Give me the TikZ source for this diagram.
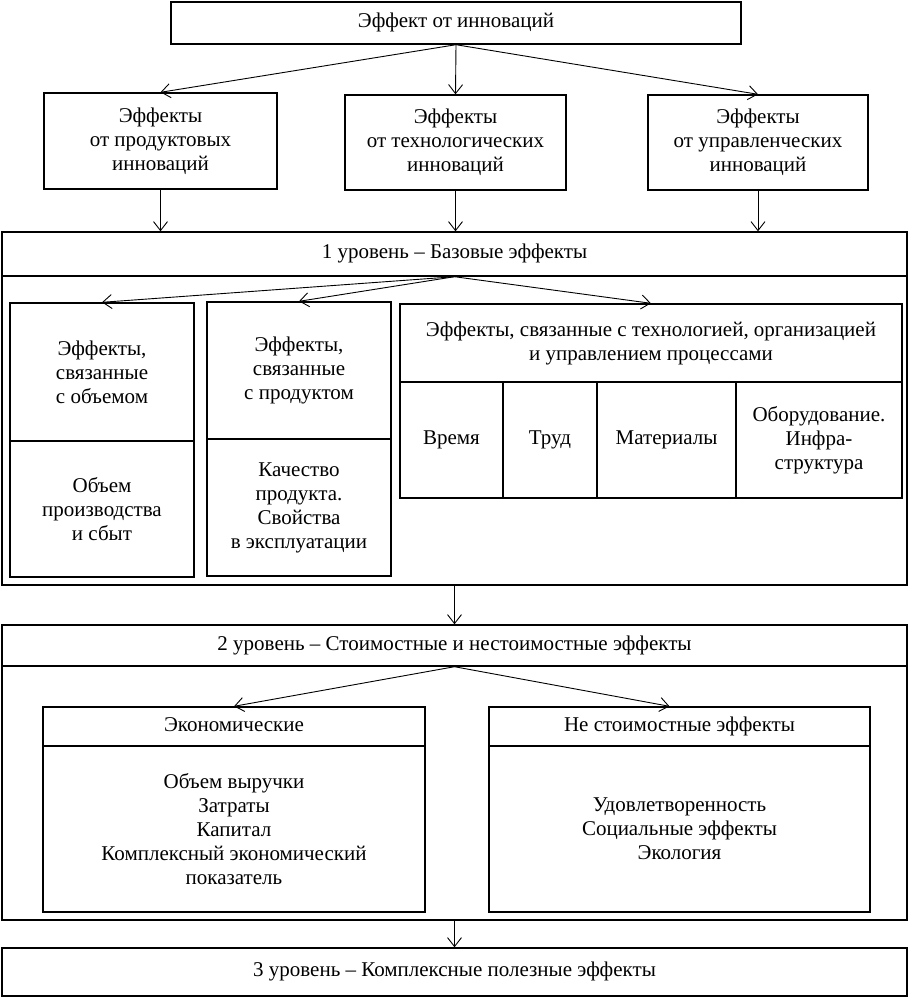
\documentclass[tikz,border=0pt]{standalone}
\usepackage{fontspec}
\setmainfont{Liberation Serif}
\usetikzlibrary{arrows.meta,calc}
\begin{document}
\begin{tikzpicture}[x=1pt,y=-1pt,
  box/.style={draw, line width=1.4pt, inner sep=0pt, align=center,
    font=\fontsize{21}{24}\selectfont},
  oneline/.style={text height=14pt, text depth=5pt},
  arr/.style={-{Straight Barb[length=9pt,width=14pt]}, line width=0.9pt}]
\useasboundingbox (0,0) rectangle (909,997);
% top
\node[box, oneline, minimum width=570, minimum height=42] (top) at (456,23) {Эффект от инноваций};
\node[box, minimum width=233, minimum height=96] (P) at (160.5,141) {Эффекты\\от продуктовых\\инноваций};
\node[box, minimum width=221, minimum height=95] (T) at (455.5,142.5) {Эффекты\\от технологических\\инноваций};
\node[box, minimum width=220, minimum height=95] (U) at (758,142.5) {Эффекты\\от управленческих\\инноваций};
\draw[arr] (top.south) -- (P.north);
\draw[arr] (top.south) -- (T.north);
\draw[arr] (top.south) -- (U.north);
% level 1
\node[box, minimum width=905, minimum height=353] (L1f) at (454.5,408.5) {};
\node[box, oneline, minimum width=905, minimum height=44] (L1h) at (454.5,254) {1 уровень – Базовые эффекты};
\draw[arr] (P.south) -- (P.south |- L1h.north);
\draw[arr] (T.south) -- (T.south |- L1h.north);
\draw[arr] (U.south) -- (U.south |- L1h.north);
\node[box, minimum width=184, minimum height=138] (A1) at (102,372) {Эффекты,\\связанные\\с объемом};
\node[box, minimum width=184, minimum height=136] (A2) at (102,509) {Объем\\производства\\и сбыт};
\node[box, minimum width=184, minimum height=137] (B1) at (299,370.5) {Эффекты,\\связанные\\с продуктом};
\node[box, minimum width=184, minimum height=137] (B2) at (299,507.5) {Качество\\продукта.\\Свойства\\в эксплуатации};
\node[box, minimum width=502, minimum height=78] (C) at (651,343) {Эффекты, связанные с технологией, организацией\\и управлением процессами};
\node[box, oneline, minimum width=103, minimum height=116] (C1) at (451.5,440) {Время};
\node[box, oneline, minimum width=94, minimum height=116] (C2) at (550,440) {Труд};
\node[box, oneline, minimum width=139, minimum height=116] (C3) at (666.5,440) {Материалы};
\node[box, minimum width=166, minimum height=116] (C4) at (819,440) {Оборудование.\\Инфра-\\структура};
\draw[arr] (L1h.south) -- (A1.north);
\draw[arr] (L1h.south) -- (B1.north);
\draw[arr] (L1h.south) -- (C.north);
% level 2
\node[box, minimum width=905, minimum height=295] (L2f) at (454.5,772.5) {};
\node[box, oneline, minimum width=905, minimum height=41] (L2h) at (454.5,645.5) {2 уровень – Стоимостные и нестоимостные эффекты};
\draw[arr] (L1f.south) -- (L2h.north);
\node[box, oneline, minimum width=382, minimum height=39] (E1) at (234,726.5) {Экономические};
\node[box, minimum width=382, minimum height=166] (E2) at (234,829) {Объем выручки\\Затраты\\Капитал\\Комплексный экономический\\показатель};
\node[box, oneline, minimum width=381, minimum height=39] (N1) at (679.5,726.5) {Не стоимостные эффекты};
\node[box, minimum width=381, minimum height=166] (N2) at (679.5,829) {Удовлетворенность\\Социальные эффекты\\Экология};
\draw[arr] (L2h.south) -- (E1.north);
\draw[arr] (L2h.south) -- ($(N1.north)+(-10,0)$);
% level 3
\node[box, oneline, minimum width=905, minimum height=48] (L3) at (454.5,972) {3 уровень – Комплексные полезные эффекты};
\draw[arr] (L2f.south) -- (L3.north);
\end{tikzpicture}
\end{document}
